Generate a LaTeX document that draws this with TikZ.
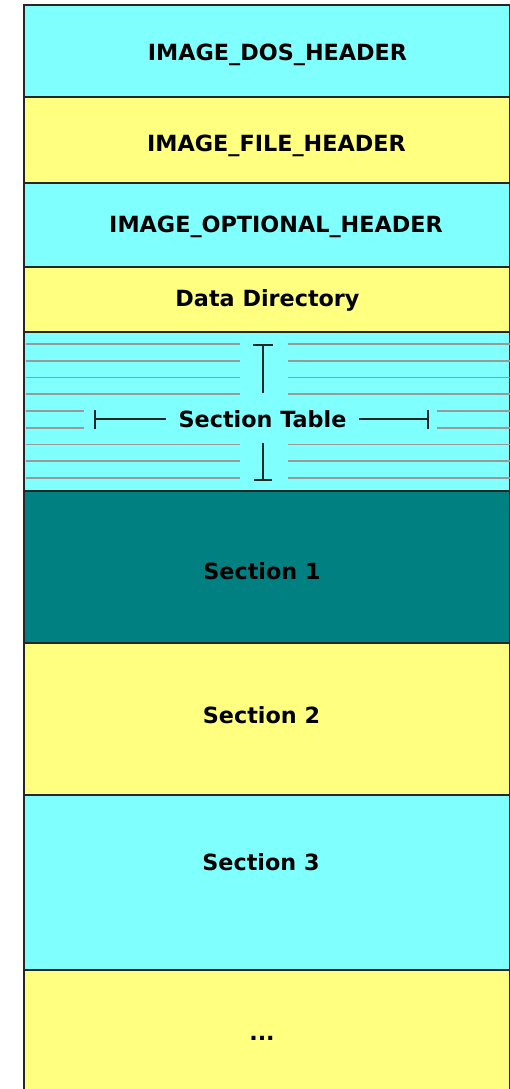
\documentclass[tikz,border=0pt]{standalone}
\usepackage{fontspec}
\setmainfont{DejaVu Sans}
\usetikzlibrary{arrows.meta}
\definecolor{pecyan}{RGB}{128,255,255}
\definecolor{peyellow}{RGB}{255,255,128}
\definecolor{peteal}{RGB}{0,128,128}
\newcommand*{\lft}{24}
\newcommand*{\rgt}{509.5}
\newcommand*{\tbl }{\fontsize{22.3}{25}\selectfont\bfseries}

\begin{document}
\begin{tikzpicture}[x=1pt, y=-1pt, font=\tbl,
    blk/.style = {draw=black!85, line width=2pt},
    lbl/.style = {anchor=base, inner sep=0pt},
    rule/.style = {draw=black!40, line width=1.6pt},
    marker/.style = {draw=black!85, line width=2pt}]
    \useasboundingbox (0,0) rectangle (510,1089);
    % header blocks
    \draw [blk, fill=pecyan  ] (\lft,  5) rectangle (\rgt,  97);
    \draw [blk, fill=peyellow] (\lft, 97) rectangle (\rgt, 183);
    \draw [blk, fill=pecyan  ] (\lft,183) rectangle (\rgt, 267);
    \draw [blk, fill=peyellow] (\lft,267) rectangle (\rgt, 332);
    \draw [blk, fill=pecyan  ] (\lft,332) rectangle (\rgt, 491);
    % sections
    \draw [blk, fill=peteal  ] (\lft,491) rectangle (\rgt, 643);
    \draw [blk, fill=peyellow] (\lft,643) rectangle (\rgt, 795);
    \draw [blk, fill=pecyan  ] (\lft,795) rectangle (\rgt, 970);
    \draw [blk, fill=peyellow] (\lft,970) rectangle (\rgt,1100);

    % table rows
    \foreach \y in {344,360.75,377.5,394.25,444.5,461.25,478} {
        \draw [rule] (\lft+1.5,\y) -- (240,\y);
        \draw [rule] (288,\y) -- (\rgt,\y);
    }
    \foreach \y in {411,427.75} {
        \draw [rule] (\lft+1.5,\y) -- (84,\y);
        \draw [rule] (437,\y) -- (\rgt,\y);
    }

    \node [lbl] (dos)     at (277.5,  61) {IMAGE\_DOS\_HEADER};
    \node [lbl] (filehdr) at (276.5, 151) {IMAGE\_FILE\_HEADER};
    \node [lbl] (opthdr)  at (276  , 232) {IMAGE\_OPTIONAL\_HEADER};
    \node [lbl] (datadir) at (267.5, 306) {Data Directory};
    \node [lbl, inner xsep=12pt] (sectab) at (262.5, 427) {Section Table};
    \node [lbl] (sec1)    at (262  , 579) {Section 1};
    \node [lbl] (sec2)    at (261.5, 723) {Section 2};
    \node [lbl] (sec3)    at (261  , 870) {Section 3};
    \node [lbl] (more)    at (262  ,1040) {...};

    % extent markers
    \coordinate (vtop)    at (263,344);
    \coordinate (vtopend) at (263,393);
    \coordinate (vbot)    at (263,481);
    \coordinate (vbotend) at (263,443);
    \coordinate (lcap)    at (94,419);
    \coordinate (rcap)    at (429,419);
    \draw [marker, {Bar[width=20pt]}-] (vtop) -- (vtopend);
    \draw [marker, {Bar[width=18pt]}-] (vbot) -- (vbotend);
    \draw [marker, {Bar[width=19pt]}-] (lcap) -- (sectab.west |- lcap);
    \draw [marker, {Bar[width=19pt]}-] (rcap) -- (sectab.east |- rcap);
\end{tikzpicture}
\end{document}
